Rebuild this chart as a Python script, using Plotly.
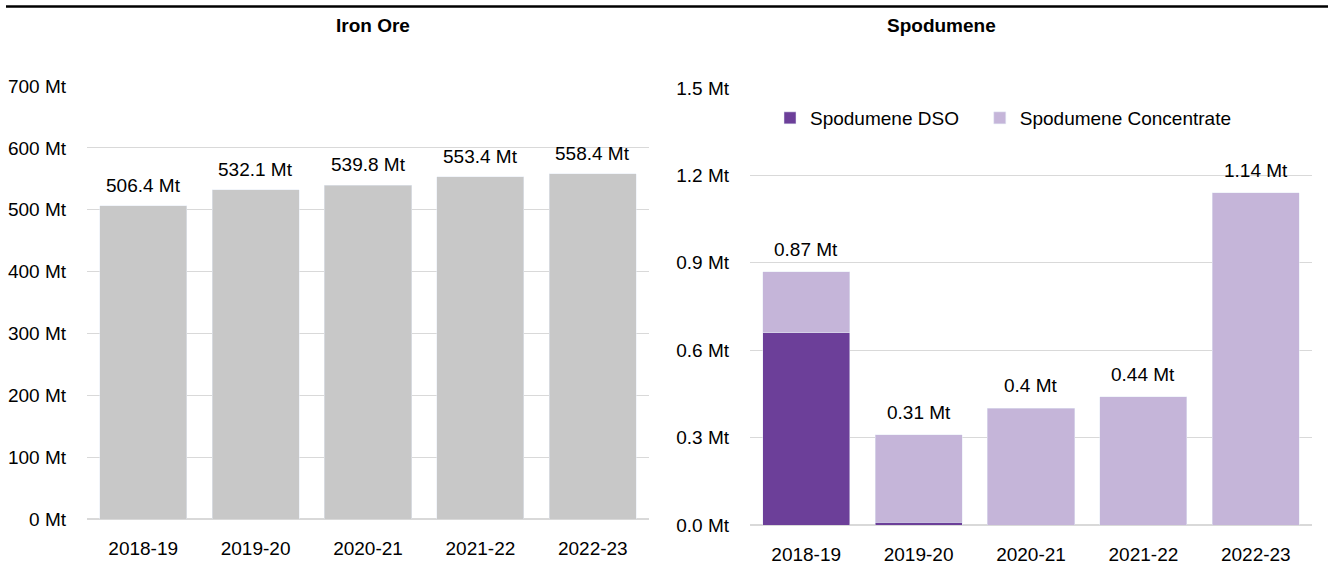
import plotly.graph_objects as go

years = ["2018-19", "2019-20", "2020-21", "2021-22", "2022-23"]
iron_ore = [506.4, 532.1, 539.8, 553.4, 558.4]
iron_labels = ["506.4 Mt", "532.1 Mt", "539.8 Mt", "553.4 Mt", "558.4 Mt"]
spod_dso = [0.66, 0.01, 0.0, 0.0, 0.0]
spod_conc = [0.21, 0.30, 0.40, 0.44, 1.14]
spod_total = [0.87, 0.31, 0.40, 0.44, 1.14]
spod_labels = ["0.87 Mt", "0.31 Mt", "0.4 Mt", "0.44 Mt", "1.14 Mt"]
iron_ticks = [0, 100, 200, 300, 400, 500, 600, 700]
spod_ticks = [0.0, 0.3, 0.6, 0.9, 1.2, 1.5]

FONT = "Liberation Sans Narrow, Arial Narrow, Liberation Sans, Arial, sans-serif"
FS = 19
W, H = 1330, 564

fig = go.Figure()
fig.add_trace(go.Bar(x=years, y=iron_ore, marker_color="#C8C8C8", showlegend=False,
                     xaxis="x", yaxis="y", width=0.775))
fig.add_trace(go.Bar(x=years, y=spod_dso, marker_color="#6C3F99",
                     name="Spodumene DSO\u00a0\u00a0\u00a0",
                     xaxis="x2", yaxis="y2", width=0.775))
fig.add_trace(go.Bar(x=years, y=spod_conc, marker_color="#C5B5D9", name="Spodumene Concentrate",
                     xaxis="x2", yaxis="y2", width=0.775))

ann = []
for xv, yv, t in zip(years, iron_ore, iron_labels):
    ann.append(dict(x=xv, y=yv, xref="x", yref="y", text=t, showarrow=False,
                    yanchor="bottom", yshift=8, font=dict(size=FS, color="#000")))
for xv, yv, t in zip(years, spod_total, spod_labels):
    ann.append(dict(x=xv, y=yv, xref="x2", yref="y2", text=t, showarrow=False,
                    yanchor="bottom", yshift=10, font=dict(size=FS, color="#000")))
ann.append(dict(x=334 / W, y=1 - 25 / H, xref="paper", yref="paper", text="<b>Iron Ore</b>",
                showarrow=False, yanchor="middle", font=dict(size=FS, color="#000")))
ann.append(dict(x=998 / W, y=1 - 25 / H, xref="paper", yref="paper", text="<b>Spodumene</b>",
                showarrow=False, yanchor="middle", font=dict(size=FS, color="#000")))

shapes = [
    dict(type="line", xref="paper", yref="paper", x0=6 / W, x1=1328 / W,
         y0=1 - 6.5 / H, y1=1 - 6.5 / H, line=dict(color="#000", width=2.5)),
]

axis_common = dict(showgrid=False, showline=False, ticks="", ticklabelstandoff=16,
                   tickfont=dict(size=FS, color="#000"), automargin=False)
yaxis_common = dict(showgrid=True, gridcolor="#D9D9D9", gridwidth=1, zeroline=True,
                    zerolinecolor="#D9D9D9", zerolinewidth=2, ticks="", ticklabelstandoff=20,
                    tickfont=dict(size=FS, color="#000"), automargin=False)

fig.update_layout(
    width=W, height=H, margin=dict(l=0, r=0, t=0, b=0, autoexpand=False),
    paper_bgcolor="white", plot_bgcolor="white",
    font=dict(family=FONT, size=FS, color="#000"),
    barmode="stack",
    xaxis=dict(domain=[87 / W, 649 / W], anchor="y", **axis_common),
    yaxis=dict(domain=[(H - 519) / H, (H - 86) / H], anchor="x", range=[0, 700],
               tickvals=iron_ticks, ticktext=[f"{v} Mt" for v in iron_ticks], **yaxis_common),
    xaxis2=dict(domain=[750 / W, 1312 / W], anchor="y2", **axis_common),
    yaxis2=dict(domain=[(H - 525) / H, (H - 88) / H], anchor="x2", range=[0, 1.5],
                tickvals=spod_ticks, ticktext=[f"{v:.1f} Mt" for v in spod_ticks], **yaxis_common),
    legend=dict(orientation="h", x=770 / W, y=1 - 118 / H, xanchor="left", yanchor="middle",
                font=dict(size=FS, color="#000"), itemwidth=30, bgcolor="rgba(0,0,0,0)",
                traceorder="normal"),
    annotations=ann, shapes=shapes,
)

fig.write_html("out.html")
